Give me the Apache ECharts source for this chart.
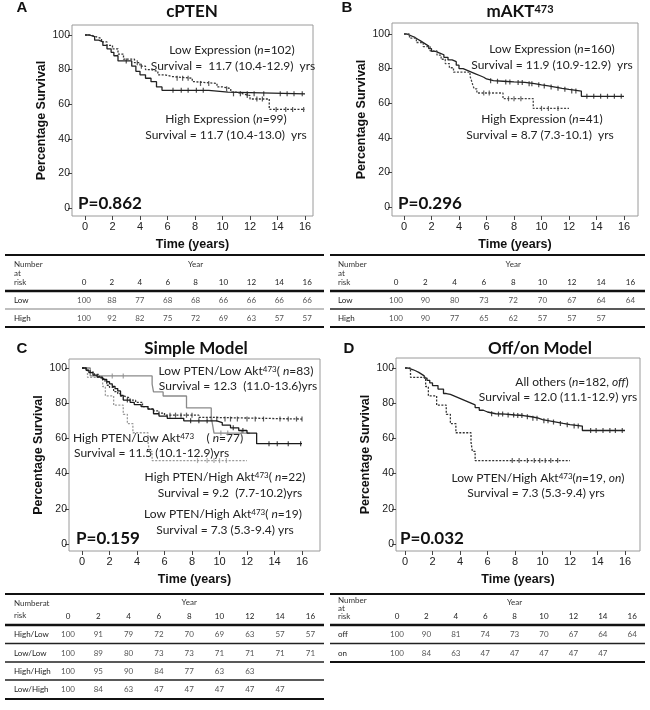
<!DOCTYPE html>
<html><head><meta charset="utf-8">
<script src="https://cdn.jsdelivr.net/npm/echarts@6/dist/echarts.min.js"></script>
<style>html,body{margin:0;padding:0;background:#fff}#c{width:650px;height:710px}</style>
</head><body><div id="c"></div>
<script>
// ---------- DATA ----------
const years = [0, 2, 4, 6, 8, 10, 12, 14, 16];
const yTicks = [0, 20, 40, 60, 80, 100];

// Panel A (cPTEN)
const aLowT  = [0,0.3,0.7,1.0,1.3,1.6,1.9,2.1,2.4,3.4,3.7,4.0,4.4,4.8,5.2,5.6,9.0,10.4,16];
const aLowS  = [100,99,97,96,94,92,90,88,85,82,79,77,75,73,70,68,67,66,66];
const aLowCens = [3.0,6.4,7.0,7.5,8.1,8.6,10.8,11.3,11.8,12.3,13.0,14.2,14.7,15.2,15.8];
const aHighT = [0,0.4,0.8,1.2,1.6,2.0,2.4,2.8,3.6,4.0,4.4,4.8,5.3,5.8,6.3,7.8,8.0,9.6,10.0,10.6,11.0,11.5,12.0,13.4,16];
const aHighS = [100,99,98,96,94,92,89,86,84,82,80,79,77,76,75,73,72,70,69,67,66,65,63,57,57];
const aHighCens = [3.8,4.1,6.7,7.1,7.5,8.4,9.0,10.3,11.8,12.5,12.9,13.9,14.6,15.1,15.9];

// Panel B (mAKT473)
const bLowT = [0,0.2,0.4,0.6,0.8,1.0,1.2,1.4,1.6,1.8,2.0,2.3,2.6,2.9,3.2,3.5,3.8,4.0,4.3,4.6,4.9,5.2,5.5,5.8,6.0,6.5,7.2,8.0,8.8,9.5,10.0,10.5,11.0,11.5,12.0,12.9,16];
const bLowS = [100,99.4,98.7,98,97,96,95,94,93,91.5,90,89,88,86.5,85,84,82,80,79,78,77,76,75,74,73,72.7,72.3,72,71.3,70.6,70,69.3,68.6,68,67,64,64];
const bLowCens = [6.3,6.8,7.4,7.7,8.3,8.6,9.1,9.3,9.8,10.2,10.7,11.2,11.7,12.2,12.5,13.3,13.8,14.3,14.8,15.3,15.8];
const bHighT = [0,0.4,0.9,1.4,1.9,2.4,2.7,3.0,3.3,3.6,4.8,4.9,5.0,5.1,5.3,7.2,9.4,12.0];
const bHighS = [100,97.6,95.1,92.7,90.2,87.8,85.4,82.9,80.5,78.0,75.6,73.2,70.7,68.3,65.9,62.6,57.0,57.0];
const bHighCens = [5.8,6.2,7.6,8.0,8.5,10.0,10.5,11.2];

// Panel C (Simple Model)
const cHLT = [0,0.3,0.5,0.8,1.1,1.5,1.8,2.0,2.2,2.4,2.6,2.8,3.0,3.5,3.8,4.3,4.8,5.2,5.6,6.2,7.4,9.8,10.2,10.8,11.4,12.0,12.7,16];
const cHLS = [100,98.7,97.4,96,94.8,93.5,92.2,91,89.6,88.3,87,84.4,81.8,80.5,79.2,78,76.6,74,72.7,71.4,70,69,67.5,66,64.5,63,57,57];
const cHLCens = [3.3,7.9,8.5,9.1,11.0,11.7,13.6,14.2,15.0,15.9];
const cLLT = [0,0.3,0.6,0.9,1.2,1.4,1.6,1.8,2.0,2.3,2.6,2.8,3.1,3.5,3.9,4.4,4.8,5.2,5.6,6.0,8.5,9.0,16];
const cLLS = [100,98.8,97.6,96.4,95.2,93.9,92.7,90.2,89,86.6,85.4,84,82.9,81.7,80.5,78,76.8,75.6,74.4,73.2,72,71,71];
const cLLCens = [6.4,6.8,7.2,7.6,8.0,9.4,9.8,10.4,10.8,11.3,12.0,12.6,13.2,14.4,15.0,15.6,16.0];
const cHHT = [0,0.6,5.1,5.2,5.9,7.6,9.4,9.5,9.6,12.2];
const cHHS = [100,95.5,90.9,86.4,84.1,77.3,72.2,67.6,63,63];
const cHHCens = [2.2,3.0,10.1,10.6,11.6];
const cLHT = [0,0.4,1.5,1.7,2.3,3.0,3.3,3.7,4.8,4.9,5.1,12.0];
const cLHS = [100,94.7,89.5,84.2,78.9,73.7,68.4,63.2,57.9,52.6,47.4,47.4];
const cLHCens = [8.4,9.1,9.6,10.0,10.5];

// Panel D (Off/on Model)
const dOffT = [0,0.2,0.4,0.6,0.8,1.0,1.2,1.4,1.6,1.8,2.0,2.4,2.8,3.0,3.3,3.6,3.9,4.2,4.5,4.8,5.1,5.4,5.7,6.0,6.6,7.3,8.0,8.6,9.2,9.7,10.0,10.5,11.0,11.5,12.0,12.9,16];
const dOffS = [100,99.5,99,98.3,97.5,96.5,95.5,94.3,93,91.5,90,88,85.5,85,84,83,82,81,80,79,77.5,76,75,74,73.8,73.3,73,72.3,71.5,70.7,70,69.3,68.5,67.8,67,64.5,64.5];
const dOffCens = [6.3,6.8,7.1,7.5,7.9,8.2,8.5,8.9,9.3,9.6,10.1,10.4,10.8,11.3,11.8,12.3,12.6,13.5,13.9,14.4,14.9,15.3,15.8];
const dOnT = [0,0.4,1.5,1.7,2.3,3.0,3.3,3.7,4.8,4.9,5.1,12.0];
const dOnS = [100,94.7,89.5,84.2,78.9,73.7,68.4,63.2,57.9,52.6,47.4,47.4];
const dOnCens = [7.8,8.3,8.9,9.4,9.8,10.2,10.6,11.1];

// Number at risk tables
const riskA_Low  = [100,88,77,68,68,66,66,66,66];
const riskA_High = [100,92,82,75,72,69,63,57,57];
const riskB_Low  = [100,90,80,73,72,70,67,64,64];
const riskB_High = [100,90,77,65,62,57,57,57];
const riskC_HighLow  = [100,91,79,72,70,69,63,57,57];
const riskC_LowLow   = [100,89,80,73,73,71,71,71,71];
const riskC_HighHigh = [100,95,90,84,77,63,63];
const riskC_LowHigh  = [100,84,63,47,47,47,47,47];
const riskD_Off = [100,90,81,74,73,70,67,64,64];
const riskD_On  = [100,84,63,47,47,47,47,47];

const pValues = ['P=0.862', 'P=0.296', 'P=0.159', 'P=0.032'];

// ---------- LAYOUT ----------
const SANS = "'Liberation Sans', Arial, sans-serif";
const CAL = "Lato, 'Open Sans', sans-serif";
const lay = [
  {box:[72,25,313,216], x0:85, x16:305, y100:35, y0:208, letter:'A', lx:22, ly:8, tx:192, ty:12, px:78, py:204},
  {box:[392,23,638,216], x0:404, x16:624, y100:34, y0:207, letter:'B', lx:347, ly:8, tx:520, ty:12, px:398, py:204},
  {box:[69,359,320,551], x0:82, x16:302, y100:368, y0:544, letter:'C', lx:22, ly:349, tx:196, ty:349, px:76, py:539},
  {box:[396,358,640,551], x0:405, x16:625, y100:368, y0:544, letter:'D', lx:349, ly:349, tx:540, ty:349, px:400, py:539}
];
const titles = ['{b|cPTEN}', '{b|mAKT}{s|473}', '{b|Simple Model}', '{b|Off/on Model}'];

function stepAt(T, S, t) {
  let v = S[0];
  for (let i = 0; i < T.length; i++) { if (T[i] <= t) v = S[i]; }
  return v;
}

const curves = [
  [ {T:aLowT,S:aLowS,C:aLowCens,color:'#222',dash:'solid'},
    {T:aHighT,S:aHighS,C:aHighCens,color:'#333',dash:[2,1.5]} ],
  [ {T:bLowT,S:bLowS,C:bLowCens,color:'#222',dash:'solid'},
    {T:bHighT,S:bHighS,C:bHighCens,color:'#444',dash:[2,1.5]} ],
  [ {T:cHHT,S:cHHS,C:cHHCens,color:'#8a8a8a',dash:'solid'},
    {T:cLHT,S:cLHS,C:cLHCens,color:'#9a9a9a',dash:[2,1.5]},
    {T:cLLT,S:cLLS,C:cLLCens,color:'#333',dash:[2,1.5]},
    {T:cHLT,S:cHLS,C:cHLCens,color:'#1a1a1a',dash:'solid'} ],
  [ {T:dOffT,S:dOffS,C:dOffCens,color:'#222',dash:'solid'},
    {T:dOnT,S:dOnS,C:dOnCens,color:'#333',dash:[2,1.5]} ]
];

const grids = [], xAxes = [], yAxes = [], series = [], graphic = [];

lay.forEach((L, i) => {
  const pxYr = (L.x16 - L.x0) / 16;
  const pxPct = (L.y0 - L.y100) / 100;
  const xmin = (L.box[0] - L.x0) / pxYr, xmax = (L.box[2] - L.x0) / pxYr;
  const ymin = -(L.box[3] - L.y0) / pxPct, ymax = 100 + (L.y100 - L.box[1]) / pxPct;
  grids.push({left:L.box[0], top:L.box[1], width:L.box[2] - L.box[0], height:L.box[3] - L.box[1], containLabel:false});
  xAxes.push({gridIndex:i, type:'value', min:xmin, max:xmax, position:'bottom',
    axisLine:{show:false, onZero:false}, splitLine:{show:false},
    axisTick:{show:true, inside:false, length:4, customValues:years, lineStyle:{color:'#444'}},
    axisLabel:{fontSize:11, color:'#222', margin:5, fontFamily:SANS, customValues:years},
    name:'Time (years)', nameLocation:'middle', nameGap:22,
    nameTextStyle:{fontWeight:'bold', fontSize:12.5, fontFamily:SANS, color:'#111'}});
  yAxes.push({gridIndex:i, type:'value', min:ymin, max:ymax, position:'left',
    axisLine:{show:false, onZero:false}, splitLine:{show:false},
    axisTick:{show:true, inside:false, length:4, customValues:yTicks, lineStyle:{color:'#444'}},
    axisLabel:{fontSize:10.5, color:'#222', margin:2, fontFamily:SANS, customValues:yTicks},
    name:'Percentage Survival', nameLocation:'middle', nameGap:24, nameRotate:90,
    nameTextStyle:{fontWeight:'bold', fontSize:12.5, fontFamily:SANS, color:'#111'}});
  curves[i].forEach(c => {
    series.push({type:'line', xAxisIndex:i, yAxisIndex:i, step:'end', showSymbol:false, silent:true,
      data: c.T.map((t, k) => [t, c.S[k]]),
      lineStyle:{color:c.color, width:1.3, type:c.dash}});
    series.push({type:'scatter', xAxisIndex:i, yAxisIndex:i, symbol:'rect', symbolSize:[1.2,5], silent:true,
      data: c.C.map(t => [t, stepAt(c.T, c.S, t)]),
      itemStyle:{color:c.color}});
  });
  graphic.push({type:'rect', shape:{x:L.box[0], y:L.box[1], width:L.box[2]-L.box[0], height:L.box[3]-L.box[1]},
    style:{fill:'none', stroke:'#9a9a9a', lineWidth:1}, silent:true});
  graphic.push({type:'text', x:L.lx, y:L.ly, style:{text:L.letter, fontSize:15, fontWeight:'bold', fontFamily:SANS,
    fill:'#111', align:'center', verticalAlign:'middle'}});
  graphic.push({type:'text', x:L.tx, y:L.ty, style:{text:titles[i], align:'center', verticalAlign:'middle',
    rich:{b:{fontSize:17, fontWeight:'bold', fontFamily:CAL, fill:'#111'},
          s:{fontSize:11, fontWeight:'bold', fontFamily:CAL, fill:'#111', verticalAlign:'top'}}}});
  graphic.push({type:'text', x:L.px, y:L.py, style:{text:pValues[i], fontSize:17, fontWeight:'bold', fontFamily:CAL,
    fill:'#111', align:'left', verticalAlign:'middle'}});
});

// annotations
const annRich = {
  r:{fontSize:12, fontFamily:CAL, fill:'#222'},
  i:{fontSize:12, fontFamily:CAL, fill:'#222', fontStyle:'italic'},
  s:{fontSize:8, fontFamily:CAL, fill:'#222', verticalAlign:'top'}
};
const annotations = [
  ['{r|Low Expression (}{i|n}{r|=102)}', 232, 50, 'center'],
  ['{r|Survival =  11.7 (10.4-12.9)  yrs}', 233, 66, 'center'],
  ['{r|High Expression (}{i|n}{r|=99)}', 226, 119, 'center'],
  ['{r|Survival = 11.7 (10.4-13.0)  yrs}', 226, 135, 'center'],
  ['{r|Low Expression (}{i|n}{r|=160)}', 552, 49, 'center'],
  ['{r|Survival = 11.9 (10.9-12.9)  yrs}', 552, 65, 'center'],
  ['{r|High Expression (}{i|n}{r|=41)}', 542, 119, 'center'],
  ['{r|Survival = 8.7 (7.3-10.1)  yrs}', 540, 135, 'center'],
  ['{r|Low PTEN/Low Akt}{s|473}{r|( }{i|n}{r|=83)}', 236, 371, 'center'],
  ['{r|Survival = 12.3  (11.0-13.6)yrs}', 238, 386, 'center'],
  ['{r|High PTEN/Low Akt}{s|473}{r|    ( }{i|n}{r|=77)}', 73, 438, 'left'],
  ['{r|Survival = 11.5 (10.1-12.9)yrs}', 74, 453, 'left'],
  ['{r|High PTEN/High Akt}{s|473}{r|( }{i|n}{r|=22)}', 225, 477, 'center'],
  ['{r|Survival = 9.2  (7.7-10.2)yrs}', 230, 493, 'center'],
  ['{r|Low PTEN/High Akt}{s|473}{r|( }{i|n}{r|=19)}', 223, 514, 'center'],
  ['{r|Survival = 7.3 (5.3-9.4) yrs}', 225, 530, 'center'],
  ['{r|All others (}{i|n}{r|=182, }{i|off}{r|)}', 572, 382, 'center'],
  ['{r|Survival = 12.0 (11.1-12.9) yrs}', 558, 397, 'center'],
  ['{r|Low PTEN/High Akt}{s|473}{r|(}{i|n}{r|=19, }{i|on}{r|)}', 538, 478, 'center'],
  ['{r|Survival = 7.3 (5.3-9.4) yrs}', 536, 493, 'center']
];
annotations.forEach(a => graphic.push({type:'text', x:a[1], y:a[2],
  style:{text:a[0], rich:annRich, align:a[3], verticalAlign:'middle'}}));

// tables
const tables = [
  {x1:5, x2:324, col0:84, step:27.9, lx:14, top:255, hdr:[['Number',264],['at',273],['risk',282]], yearY:264, digitY:282, hdrLine:291,
   rows:[['Low',riskA_Low,300],['High',riskA_High,318]], seps:[[309,'#aaa']], bottom:327},
  {x1:330, x2:645, col0:396, step:29.3, lx:338, top:255, hdr:[['Number',264],['at',273],['risk',282]], yearY:264, digitY:282, hdrLine:291,
   rows:[['Low',riskB_Low,300],['High',riskB_High,318]], seps:[[309,'#222']], bottom:327},
  {x1:5, x2:324, col0:68, step:30.3, lx:14, top:594, hdr:[['Numberat',603],['risk',615]], yearY:602, digitY:616, hdrLine:625,
   rows:[['High/Low',riskC_HighLow,634],['Low/Low',riskC_LowLow,653],['High/High',riskC_HighHigh,671],['Low/High',riskC_LowHigh,689]],
   seps:[[643.5,'#222'],[662,'#222'],[680,'#222']], bottom:699},
  {x1:330, x2:645, col0:397, step:29.4, lx:338, top:594, hdr:[['Number',600],['at',608],['risk',616]], yearY:602, digitY:616, hdrLine:625,
   rows:[['off',riskD_Off,634],['on',riskD_On,653]], seps:[[643.5,'#222']], bottom:662}
];
function hline(x1, x2, y, w, c) {
  graphic.push({type:'line', shape:{x1:x1, y1:y, x2:x2, y2:y}, style:{stroke:c, lineWidth:w}, silent:true});
}
function ttext(t, x, y, align, col, size) {
  graphic.push({type:'text', x:x, y:y, style:{text:String(t), fontSize:size || 8, fontFamily:CAL, fill:col || '#333',
    align:align, verticalAlign:'middle'}});
}
tables.forEach(T => {
  hline(T.x1, T.x2, T.top, 2, '#111');
  T.hdr.forEach(h => ttext(h[0], T.lx, h[1], 'left', '#333'));
  ttext('Year', T.col0 + T.step * 4, T.yearY, 'center', '#333');
  years.forEach((y, k) => ttext(y, T.col0 + T.step * k, T.digitY, 'center', '#222'));
  hline(T.x1, T.x2, T.hdrLine, 2.5, '#111');
  T.rows.forEach(r => {
    ttext(r[0], T.lx, r[2], 'left', '#222');
    r[1].forEach((v, k) => ttext(v, T.col0 + T.step * k, r[2], 'center', '#555'));
  });
  T.seps.forEach(s => hline(T.x1, T.x2, s[0], 1.5, s[1]));
  hline(T.x1, T.x2, T.bottom, 2, '#111');
});

const chart = echarts.init(document.getElementById('c'), null, {renderer:'canvas'});
chart.setOption({
  animation:false,
  backgroundColor:'#fff',
  grid:grids, xAxis:xAxes, yAxis:yAxes, series:series, graphic:graphic
});
</script></body></html>
